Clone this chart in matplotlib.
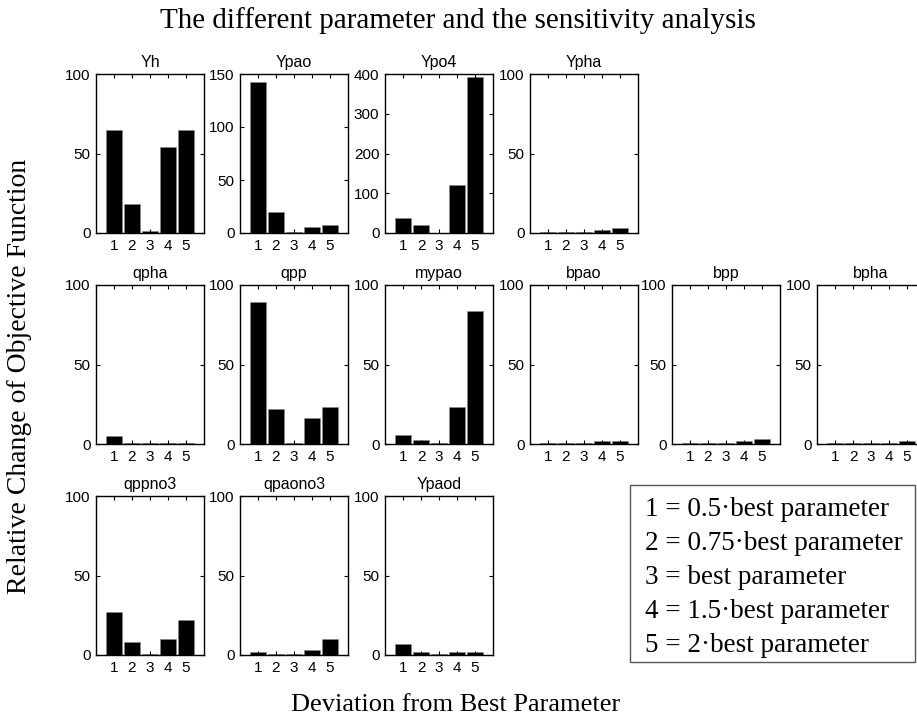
import matplotlib
matplotlib.use('Agg')
import matplotlib.pyplot as plt
from matplotlib.patches import Rectangle

W, H = 917, 722

# --- data ---
positions = [1, 2, 3, 4, 5]
tick_labels = ["1", "2", "3", "4", "5"]

Yh      = [65, 18, 1, 54, 65]
Ypao    = [142, 20, 1, 5.3, 7.8]
Ypo4    = [38, 21, 0.5, 121, 393]
Ypha    = [0.7, 0.7, 0.7, 2.1, 2.9]
qpha    = [5.2, 0.6, 0.6, 0.6, 0.6]
qpp     = [89, 22, 0.6, 16.4, 23.5]
mypao   = [5.9, 2.5, 0.7, 23.5, 83.4]
bpao    = [0.6, 0.6, 0.6, 1.9, 1.9]
bpp     = [0.5, 0.5, 0.5, 1.7, 3.1]
bpha    = [0.5, 0.5, 0.5, 0.5, 1.7]
qppno3  = [27.3, 7.9, 0.5, 9.8, 22.1]
qpaono3 = [1.9, 0.6, 0.6, 3.3, 9.8]
Ypaod   = [6.7, 1.9, 0.5, 1.9, 1.9]

# (name, values, ymax, y ticks, row, column)
panels = [
    ("Yh", Yh, 100, [0, 50, 100], 0, 0),
    ("Ypao", Ypao, 150, [0, 50, 100, 150], 0, 1),
    ("Ypo4", Ypo4, 400, [0, 100, 200, 300, 400], 0, 2),
    ("Ypha", Ypha, 100, [0, 50, 100], 0, 3),
    ("qpha", qpha, 100, [0, 50, 100], 1, 0),
    ("qpp", qpp, 100, [0, 50, 100], 1, 1),
    ("mypao", mypao, 100, [0, 50, 100], 1, 2),
    ("bpao", bpao, 100, [0, 50, 100], 1, 3),
    ("bpp", bpp, 100, [0, 50, 100], 1, 4),
    ("bpha", bpha, 100, [0, 50, 100], 1, 5),
    ("qppno3", qppno3, 100, [0, 50, 100], 2, 0),
    ("qpaono3", qpaono3, 100, [0, 50, 100], 2, 1),
    ("Ypaod", Ypaod, 100, [0, 50, 100], 2, 2),
]

legend_lines = [
    "1 = 0.5\u00b7best parameter",
    "2 = 0.75\u00b7best parameter",
    "3 = best parameter",
    "4 = 1.5\u00b7best parameter",
    "5 = 2\u00b7best parameter",
]

title = "The different parameter and the sensitivity analysis"
xlabel = "Deviation from Best Parameter"
ylabel = "Relative Change of Objective Function"

# --- layout (pixels) ---
col_left = [96, 240, 385, 530, 672, 817]
row_top = [74, 285, 496]
ax_w, ax_h = 108, 159

sans = "Liberation Sans"
serif = "Liberation Serif"

fig = plt.figure(figsize=(W / 100, H / 100), dpi=100)

for name, vals, ymax, yt, r, c in panels:
    left = col_left[c] / W
    bottom = 1 - (row_top[r] + ax_h) / H
    ax = fig.add_axes([left, bottom, ax_w / W, ax_h / H])
    ax.bar(positions, vals, width=0.92, color="black", edgecolor="#888888", linewidth=0.4)
    ax.set_xlim(0, 6)
    ax.set_ylim(0, ymax)
    ax.set_xticks(positions)
    ax.set_xticklabels(tick_labels, family=sans, fontsize=11)
    ax.set_yticks(yt)
    ax.set_yticklabels([str(t) for t in yt], family=sans, fontsize=11)
    ax.tick_params(direction="in", top=True, right=True, length=3, width=0.8, pad=4)
    for s in ax.spines.values():
        s.set_linewidth(1.0)
    ax.set_title(name, family=sans, fontsize=11.5, pad=5)

# explanation box
bx0, by0, bx1, by1 = 630, 485, 915, 662
fig.patches.append(Rectangle((bx0 / W, 1 - by1 / H), (bx1 - bx0) / W, (by1 - by0) / H,
                             transform=fig.transFigure, fill=False,
                             edgecolor="#555555", linewidth=1.0))
for i, line in enumerate(legend_lines):
    fig.text(645 / W, 1 - (510 + i * 34) / H, line, family=serif, fontsize=19.5,
             ha="left", va="center")

fig.text(458 / W, 1 - 21 / H, title, family=serif, fontsize=21, ha="center", va="center")
fig.text(456 / W, 1 - 705 / H, xlabel, family=serif, fontsize=19, ha="center", va="center")
fig.text(20 / W, 1 - 376 / H, ylabel, family=serif, fontsize=20, ha="center", va="center",
         rotation=90)

fig.savefig("out.png", dpi=100)
